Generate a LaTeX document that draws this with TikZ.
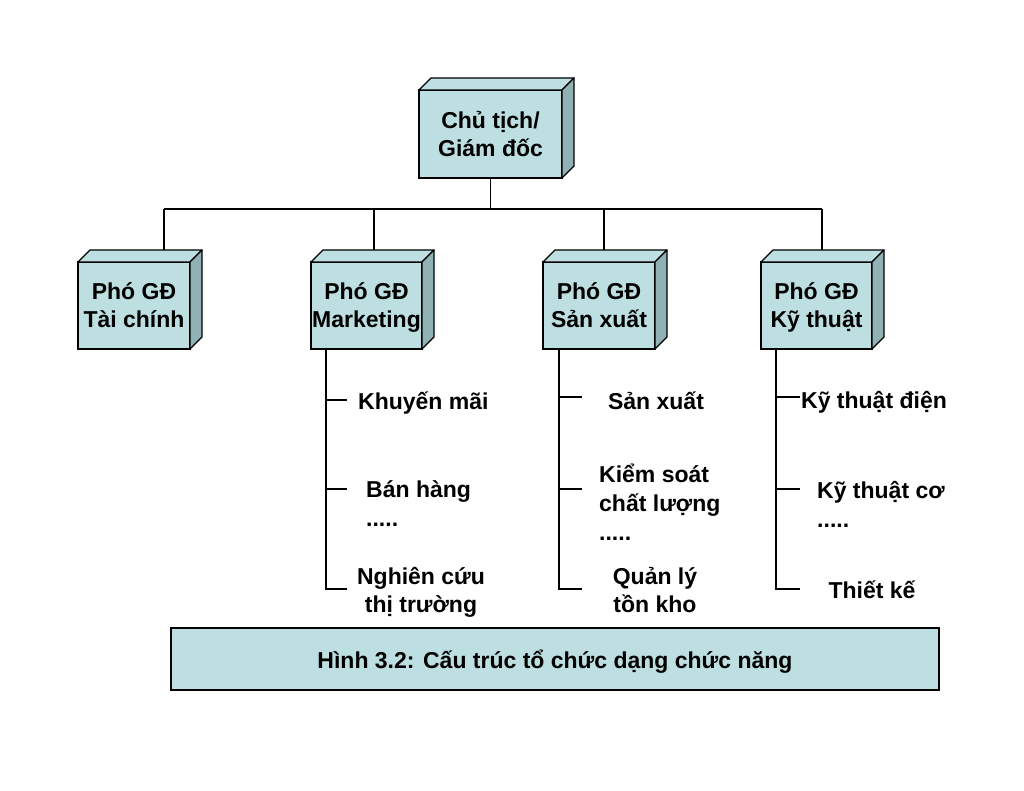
\documentclass[tikz,border=0pt]{standalone}
\usepackage{fontspec}
\setmainfont{Liberation Sans}
\definecolor{boxfill}{RGB}{189,223,225}
\definecolor{boxside}{RGB}{145,178,180}
\tikzset{
  face/.style={draw=black, line width=1.3pt, fill=boxfill, align=center, outer sep=0pt,
    inner sep=0pt, font=\bfseries\fontsize{23}{28}\selectfont},
  topface/.style={draw=black, line width=1.3pt, fill=boxfill, line join=round},
  sideface/.style={draw=black, line width=1.3pt, fill=boxside, line join=round},
  conn/.style={line width=1.5pt},
  item/.style={font=\bfseries\fontsize{23}{29}\selectfont, inner sep=0pt, align=left},
  itemc/.style={font=\bfseries\fontsize{23}{28}\selectfont, inner sep=0pt, align=center},
  capbox/.style={draw=black, line width=1.5pt, fill=boxfill, outer sep=0pt,
    font=\bfseries\fontsize{23}{28}\selectfont},
}
\newcommand\nodepth[1]{\raisebox{0pt}[\height][0pt]{#1}}
\newcommand\cubebox[6]{%
  \node[face, minimum width=#4, minimum height=#5] (#1) at (#2,#3) {#6};
  \draw[topface] (#1.north west) -- ([shift={(12pt,12pt)}]#1.north west)
    -- ([shift={(12pt,12pt)}]#1.north east) -- (#1.north east) -- cycle;
  \draw[sideface] (#1.north east) -- ([shift={(12pt,12pt)}]#1.north east)
    -- ([shift={(12pt,12pt)}]#1.south east) -- (#1.south east) -- cycle;
}
\begin{document}
\begin{tikzpicture}[x=1pt,y=-1pt]
\useasboundingbox[fill=white] (0,0) rectangle (1024,791);

% boxes
\cubebox{ceo}{490.5}{134}{143pt}{88pt}{Chủ tịch/\\Giám đốc}
\cubebox{tc}{134}{305.5}{112pt}{87pt}{Phó GĐ\\Tài chính}
\cubebox{mk}{366.5}{305.5}{111pt}{87pt}{Phó GĐ\\\nodepth{Marketing}}
\cubebox{sx}{599}{305.5}{112pt}{87pt}{Phó GĐ\\Sản xuất}
\cubebox{kt}{816.5}{305.5}{111pt}{87pt}{Phó GĐ\\\nodepth{Kỹ thuật}}

% bus connectors
\coordinate (bus) at (490.5,209);
\coordinate (tc-in) at (164,250);
\coordinate (mk-in) at (374,250);
\coordinate (sx-in) at (604,250);
\coordinate (kt-in) at (822,250);
\draw[conn] (ceo.south) -- (bus);
\draw[conn] (tc-in |- bus) -- (kt-in |- bus);
\draw[conn] (tc-in |- bus) -- (tc-in);
\draw[conn] (mk-in |- bus) -- (mk-in);
\draw[conn] (sx-in |- bus) -- (sx-in);
\draw[conn] (kt-in |- bus) -- (kt-in);

% sub-item texts
\node[item, anchor=west] (mk1) at (358,403) {Khuyến mãi};
\node[item, anchor=west] (mk2) at (366,504) {Bán hàng\\.....};
\node[itemc] (mk3) at (421,592) {Nghiên cứu\\thị trường};
\node[itemc] (sx1) at (656,401) {Sản xuất};
\node[item, anchor=west] (sx2) at (599,502) {Kiểm soát\\chất lượng\\.....};
\node[itemc] (sx3) at (655,590) {Quản lý\\tồn kho};
\node[item, anchor=west] (kt1) at (801,402) {Kỹ thuật điện};
\node[item, anchor=west] (kt2) at (817,504) {Kỹ thuật cơ\\.....};
\node[itemc] (kt3) at (872,590) {Thiết kế};

% trees
\coordinate (mk-a) at (326,400); \coordinate (mk-b) at (326,489); \coordinate (mk-c) at (326,589);
\draw[conn] (mk.south -| mk-c) -- (mk-c) -- ++(21,0);
\draw[conn] (mk-a) -- ++(21,0);
\draw[conn] (mk-b) -- ++(21,0);
\coordinate (sx-a) at (559,397); \coordinate (sx-b) at (559,489); \coordinate (sx-c) at (559,589);
\draw[conn] (sx.south -| sx-c) -- (sx-c) -- ++(23,0);
\draw[conn] (sx-a) -- ++(23,0);
\draw[conn] (sx-b) -- ++(23,0);
\coordinate (kt-a) at (776,397); \coordinate (kt-b) at (776,489); \coordinate (kt-c) at (776,589);
\draw[conn] (kt.south -| kt-c) -- (kt-c) -- ++(24,0);
\draw[conn] (kt-a) -- ++(24,0);
\draw[conn] (kt-b) -- ++(24,0);

% caption
\node[capbox, minimum width=768pt, minimum height=62pt] (cap) at (555,659)
  {\raisebox{-3pt}[\height][\depth]{Hình 3.2: Cấu trúc tổ chức dạng chức năng}};
\end{tikzpicture}
\end{document}
